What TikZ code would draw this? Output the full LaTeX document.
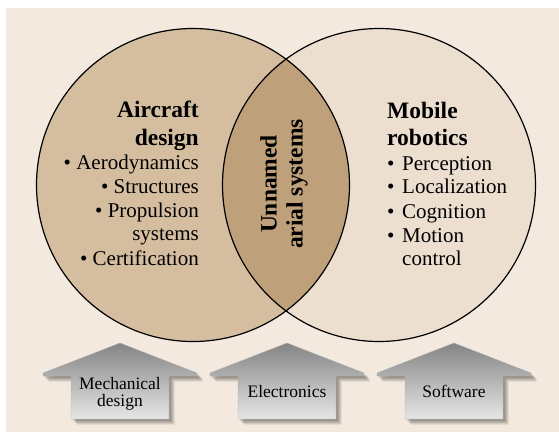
\documentclass[tikz,border=0pt]{standalone}
\usepackage{fontspec}
\setmainfont{Liberation Serif}
\definecolor{bgc}{RGB}{243,233,222}
\definecolor{leftc}{RGB}{213,190,159}
\definecolor{rightc}{RGB}{236,223,208}
\definecolor{lensc}{RGB}{190,161,122}
\definecolor{arrtop}{RGB}{132,132,132}
\definecolor{arrbot}{RGB}{230,230,230}
\newcommand\uasarrow[1]{(#1,343) -- (#1+77,373) -- (#1+77,376) -- (#1+49,376) -- (#1+49,419) -- (#1-49,419) -- (#1-49,376) -- (#1-77,376) -- (#1-77,373) -- cycle}
\tikzset{
  x=1pt,y=-1pt,
  headtxt/.style={inner sep=0pt,font=\fontsize{23.5}{26}\selectfont\bfseries},
  bodytxt/.style={inner sep=0pt,font=\fontsize{21}{24}\selectfont},
  arrtxt/.style={inner sep=0pt,align=center,font=\fontsize{17.5}{16}\selectfont},
  circline/.style={draw=black,line width=1.2pt},
  arrfill/.style={top color=arrtop,bottom color=arrbot,draw=gray!60,line width=0.4pt},
  arrshadow/.style={fill=black,opacity=0.09}
}
\begin{document}
\begin{tikzpicture}
\useasboundingbox (0,0) rectangle (559,432);
\fill[bgc] (6,8) rectangle (559,432);
% circles
\fill[leftc] (193,185) circle[radius=156.5pt];
\fill[rightc] (379,185) circle[radius=156.5pt];
\begin{scope}
  \clip (193,185) circle[radius=156.5pt];
  \fill[lensc] (379,185) circle[radius=156.5pt];
\end{scope}
\draw[circline] (193,185) circle[radius=156.5pt];
\draw[circline] (379,185) circle[radius=156.5pt];
% left texts
\node[headtxt,anchor=base east] (ad1) at (199,117) {Aircraft};
\node[headtxt,anchor=base east] (ad2) at (199,145) {design};
\node[bodytxt,anchor=base east] (l1) at (199,169) {• Aerodynamics};
\node[bodytxt,anchor=base east] (l2) at (199,193) {• Structures};
\node[bodytxt,anchor=base east] (l3) at (199,217) {• Propulsion};
\node[bodytxt,anchor=base east] (l4) at (199,240) {systems};
\node[bodytxt,anchor=base east] (l5) at (199,265) {• Certification};
% right texts
\node[headtxt,anchor=base west] (mr1) at (387,118) {Mobile};
\node[headtxt,anchor=base west] (mr2) at (387,145) {robotics};
\node[bodytxt,anchor=base west] (r1) at (387,170) {\makebox[15pt][l]{•}Perception};
\node[bodytxt,anchor=base west] (r2) at (387,193) {\makebox[15pt][l]{•}Localization};
\node[bodytxt,anchor=base west] (r3) at (387,218) {\makebox[15pt][l]{•}Cognition};
\node[bodytxt,anchor=base west] (r4) at (387,242) {\makebox[15pt][l]{•}Motion};
\node[bodytxt,anchor=base west] (r5) at (402,265) {control};
% centre
\node[headtxt,align=center,rotate=90] (uas) at (284,184) {Unnamed\\arial systems};
% arrows
\foreach \cx in {120,287,454}{
  \foreach \s in {1.5,2.5,3.5,4.5,5.5}{
    \fill[arrshadow,shift={(\s pt,-\s pt)}] \uasarrow{\cx};
  }
  \path[arrfill] \uasarrow{\cx};
}
\node[arrtxt,anchor=base] (a1a) at (120,389) {Mechanical};
\node[arrtxt,anchor=base] (a1b) at (120,406) {design};
\node[arrtxt,anchor=base] (a2) at (287,397) {Electronics};
\node[arrtxt,anchor=base] (a3) at (454,397) {Software};
\end{tikzpicture}
\end{document}
